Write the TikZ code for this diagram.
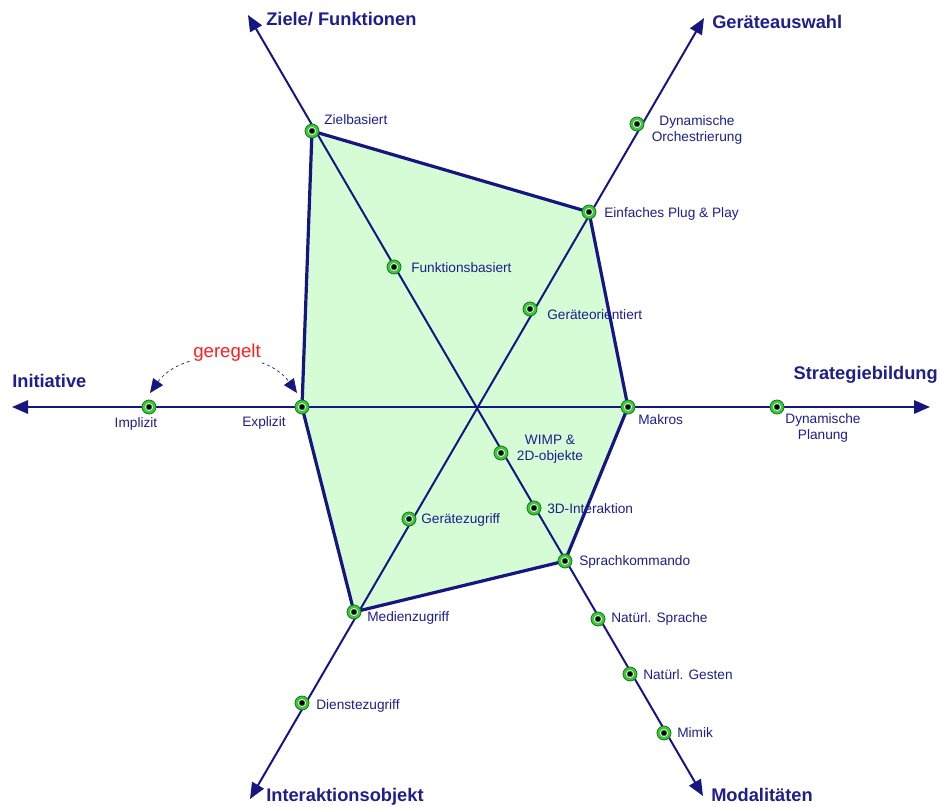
\documentclass[tikz,border=0pt]{standalone}
\usepackage{fontspec}
\setmainfont{Liberation Sans}
\usetikzlibrary{arrows.meta}
\definecolor{navy}{RGB}{22,22,128}
\definecolor{txtnavy}{RGB}{30,30,140}
\definecolor{polyfill}{RGB}{214,252,214}
\definecolor{mkgreen}{RGB}{60,200,60}
\definecolor{mkdark}{RGB}{20,120,20}
\definecolor{redlbl}{RGB}{255,30,30}
\tikzset{
  axis/.style={draw=navy, line width=1.5pt, {Triangle[length=12pt,width=10pt]}-{Triangle[length=12pt,width=10pt]}},
  mk/.style={circle, inner sep=0pt, minimum size=10.5pt, fill=mkgreen, draw=mkdark, line width=0.6pt,
    path picture={\fill[white] (path picture bounding box.center) circle (3pt);
                  \filldraw[black, draw=mkdark, line width=0.4pt] (path picture bounding box.center) circle (2.1pt);}},
  lbl/.style={text=txtnavy, font=\fontsize{10.25}{12}\selectfont, inner sep=0pt, align=center},
  ttl/.style={text=txtnavy, font=\fontsize{13.7}{16}\selectfont\bfseries, inner sep=0pt},
}
\begin{document}
\begin{tikzpicture}[x=0.75pt,y=-0.75pt]
\useasboundingbox (0,0) rectangle (940,807);
% axis ends
\coordinate (c) at (477,407);
\coordinate (eL) at (12,407);
\coordinate (eR) at (930,407);
\coordinate (eUL) at (248,15);
\coordinate (eLR) at (703,796);
\coordinate (eUR) at (704,18);
\coordinate (eLL) at (250,799);
% points
\coordinate (pZiel) at (312,131);
\coordinate (pFunk) at (394,267);
\coordinate (pOrch) at (637,124);
\coordinate (pPlug) at (589,212);
\coordinate (pGOri) at (530,309);
\coordinate (pImpl) at (149,407);
\coordinate (pExpl) at (302,407);
\coordinate (pMakr) at (628,407);
\coordinate (pPlan) at (777,407);
\coordinate (pWimp) at (501,453);
\coordinate (p3D) at (534,508);
\coordinate (pSpra) at (565,561);
\coordinate (pNSpr) at (598,619);
\coordinate (pNGes) at (630,674);
\coordinate (pMimi) at (664,733);
\coordinate (pGZug) at (409,519);
\coordinate (pMedi) at (354,612);
\coordinate (pDien) at (302,703);
% polygon fill
\fill[polyfill] (pZiel) -- (pPlug) -- (pMakr) -- (pSpra) -- (pMedi) -- (pExpl) -- cycle;
% axes
\draw[axis] (eL) -- (eR);
\draw[axis] (eUL) -- (eLR);
\draw[axis] (eUR) -- (eLL);
% polygon border
\draw[navy, line width=2.4pt, line join=round] (pZiel) -- (pPlug) -- (pMakr) -- (pSpra) -- (pMedi) -- (pExpl) -- cycle;
% markers
\foreach \p in {pZiel,pFunk,pOrch,pPlug,pGOri,pImpl,pExpl,pMakr,pPlan,pWimp,p3D,pSpra,pNSpr,pNGes,pMimi,pGZug,pMedi,pDien}
  \node[mk] (m\p) at (\p) {};
% titles
\node[ttl, anchor=west] (tZiel) at (266,19) {Ziele/ Funktionen};
\node[ttl, anchor=west] (tGer) at (712,22) {Geräteauswahl};
\node[ttl, anchor=west] (tIni) at (12,381) {Initiative};
\node[ttl, anchor=east] (tStr) at (938,375) {Strategiebildung};
\node[ttl, anchor=west] (tInt) at (266,797) {Interaktionsobjekt};
\node[ttl, anchor=west] (tMod) at (711,795) {Modalitäten};
% labels
\node[lbl, anchor=west] (lZiel) at (324,120) {Zielbasiert};
\node[lbl, anchor=west] (lFunk) at (411,268) {Funktionsbasiert};
\node[lbl] (lOrch) at (697,130) {Dynamische\\Orchestrierung};
\node[lbl, anchor=west] (lPlug) at (604,214) {Einfaches Plug \& Play};
\node[lbl, anchor=west] (lGOri) at (547,315) {Geräteorientiert};
\node[lbl] (lImpl) at (136,424) {Implizit};
\node[lbl] (lExpl) at (264,423) {Explizit};
\node[lbl, anchor=west] (lMakr) at (638,420) {Makros};
\node[lbl] (lPlan) at (823,428) {Dynamische\\Planung};
\node[lbl] (lWimp) at (550,449) {WIMP \&\\2D-objekte};
\node[lbl, anchor=west] (l3D) at (547,509) {3D-Interaktion};
\node[lbl, anchor=west] (lSpra) at (579,562) {Sprachkommando};
\node[lbl, anchor=west] (lNSpr) at (611,619) {Natürl. Sprache};
\node[lbl, anchor=west] (lNGes) at (643,675) {Natürl. Gesten};
\node[lbl, anchor=west] (lMimi) at (677,733) {Mimik};
\node[lbl, anchor=west] (lGZug) at (421,520) {Gerätezugriff};
\node[lbl, anchor=west] (lMedi) at (367,618) {Medienzugriff};
\node[lbl, anchor=west] (lDien) at (316,706) {Dienstezugriff};
% geregelt arc
\coordinate (aR) at (297,393);
\coordinate (aL) at (150,393);
\draw[navy, line width=0.5pt, dash pattern=on 2.2pt off 2.2pt, {Triangle[length=10.5pt,width=9pt]}-{Triangle[length=10.5pt,width=9pt]}]
  (aL) .. controls (182,348) and (265,348) .. (aR);
\node[text=redlbl, font=\fontsize{14}{16}\selectfont, fill=white, inner sep=1pt] (geregelt) at (227,353) {geregelt};
\end{tikzpicture}
\end{document}
